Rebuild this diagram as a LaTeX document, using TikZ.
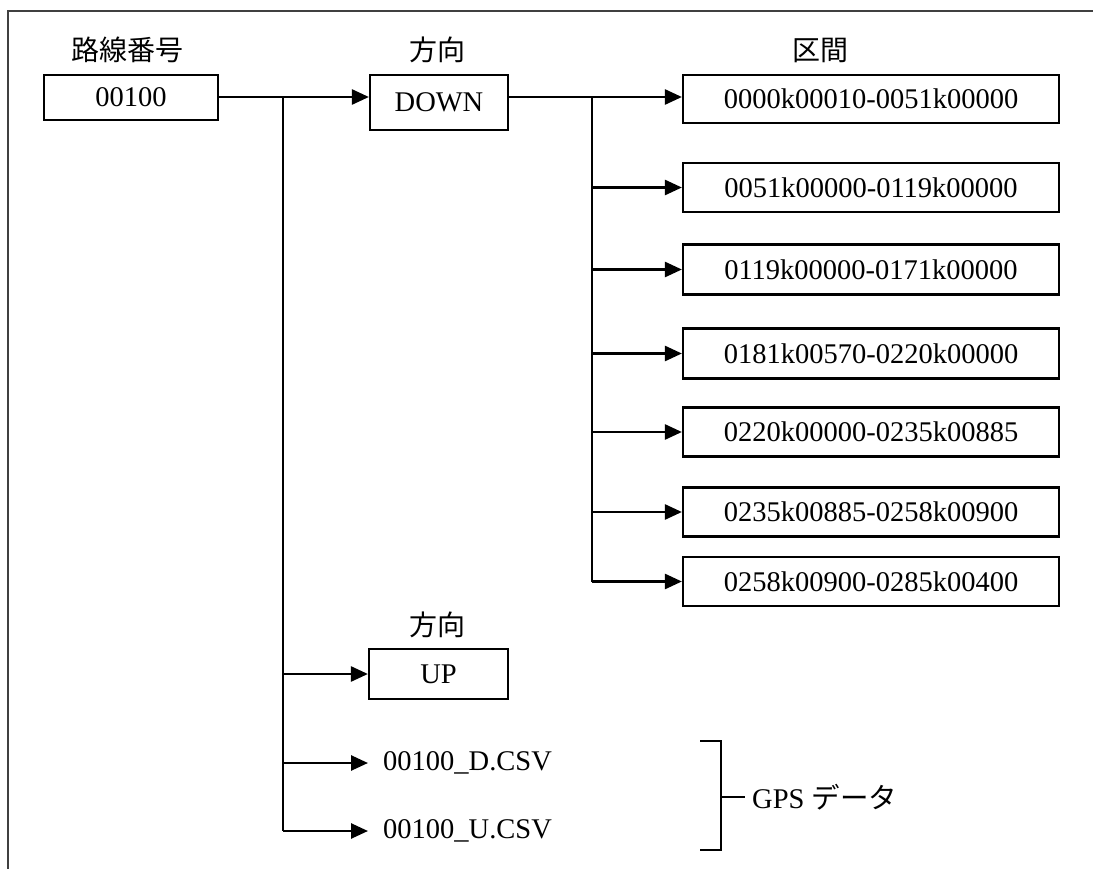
\documentclass[tikz,border=0pt]{standalone}
\usepackage{fontspec}
\setmainfont{Liberation Serif}
\newfontfamily\cjk{Noto Sans CJK JP}
\usetikzlibrary{arrows.meta}
\begin{document}
\begin{tikzpicture}[x=1pt,y=-1pt,
  every node/.style={font=\fontsize{28.5}{34}\selectfont},
  box/.style={draw,line width=2.2pt,inner sep=0pt,anchor=center},
  lbl/.style={inner sep=0pt,font=\fontsize{28}{34}\selectfont\cjk},
  conn/.style={line width=2.6pt},
  arr/.style={line width=2.6pt,-{Triangle[length=17pt,width=15pt]}},
  ftxt/.style={inner xsep=15pt,inner ysep=0pt,anchor=west}]
\useasboundingbox (0,0) rectangle (1093,869);
\draw[line width=2pt,black!75] (8,869) -- (8,11) -- (1093,11);
% labels
\node[lbl] (l1) at (127,50) {路線番号};
\node[lbl] (l2) at (437,50) {方向};
\node[lbl] (l3) at (820,50) {区間};
\node[lbl] (l4) at (437,625) {方向};
% boxes
\node[box,minimum width=174pt,minimum height=45pt] (r) at (131,97.5) {00100};
\node[box,minimum width=138pt,minimum height=55pt] (dn) at (439,102.5) {DOWN};
\node[box,minimum width=139pt,minimum height=50pt] (up) at (438.5,674) {UP};
\node[box,minimum width=376pt,minimum height=48pt] (s1) at (871,99) {0000k00010-0051k00000};
\node[box,minimum width=376pt,minimum height=49pt] (s2) at (871,187.5) {0051k00000-0119k00000};
\node[box,minimum width=376pt,minimum height=50pt] (s3) at (871,269.5) {0119k00000-0171k00000};
\node[box,minimum width=376pt,minimum height=50pt] (s4) at (871,353.5) {0181k00570-0220k00000};
\node[box,minimum width=376pt,minimum height=49pt] (s5) at (871,432) {0220k00000-0235k00885};
\node[box,minimum width=376pt,minimum height=49pt] (s6) at (871,512) {0235k00885-0258k00900};
\node[box,minimum width=376pt,minimum height=49pt] (s7) at (871,581.5) {0258k00900-0285k00400};
% files
\node[ftxt] (fd) at (368,763) {00100\_D.CSV};
\node[ftxt] (fu) at (368,831) {00100\_U.CSV};
\node[inner sep=0pt,anchor=west] (gps) at (752,797) {GPS {\cjk データ}};
% branch points
\coordinate (b1) at (283,97);
\coordinate (b2) at (592,97);
\coordinate (bt) at (700,741);
\coordinate (bb) at (700,850);
\coordinate (bm) at (721,797);
% connectors
\draw[arr] (r.east |- b1) -- (b1 -| dn.west);
\draw[conn] (b1) -- (b1 |- fu.west);
\draw[arr] (b1 |- up.west) -- (up.west);
\draw[arr] (b1 |- fd.west) -- (fd.west);
\draw[arr] (b1 |- fu.west) -- (fu.west);
\draw[arr] (dn.east |- b2) -- (b2 -| s1.west);
\draw[conn] (b2) -- (b2 |- s7.west);
\foreach \s in {s2,s3,s4,s5,s6,s7} \draw[arr] (b2 |- \s.west) -- (\s.west);
% bracket
\draw[line width=1.2pt] (bt) -- (bt -| bm) -- (bb -| bm) -- (bb);
\draw[line width=1.2pt] (bm) -- ([xshift=-7pt]gps.west);
\end{tikzpicture}
\end{document}
